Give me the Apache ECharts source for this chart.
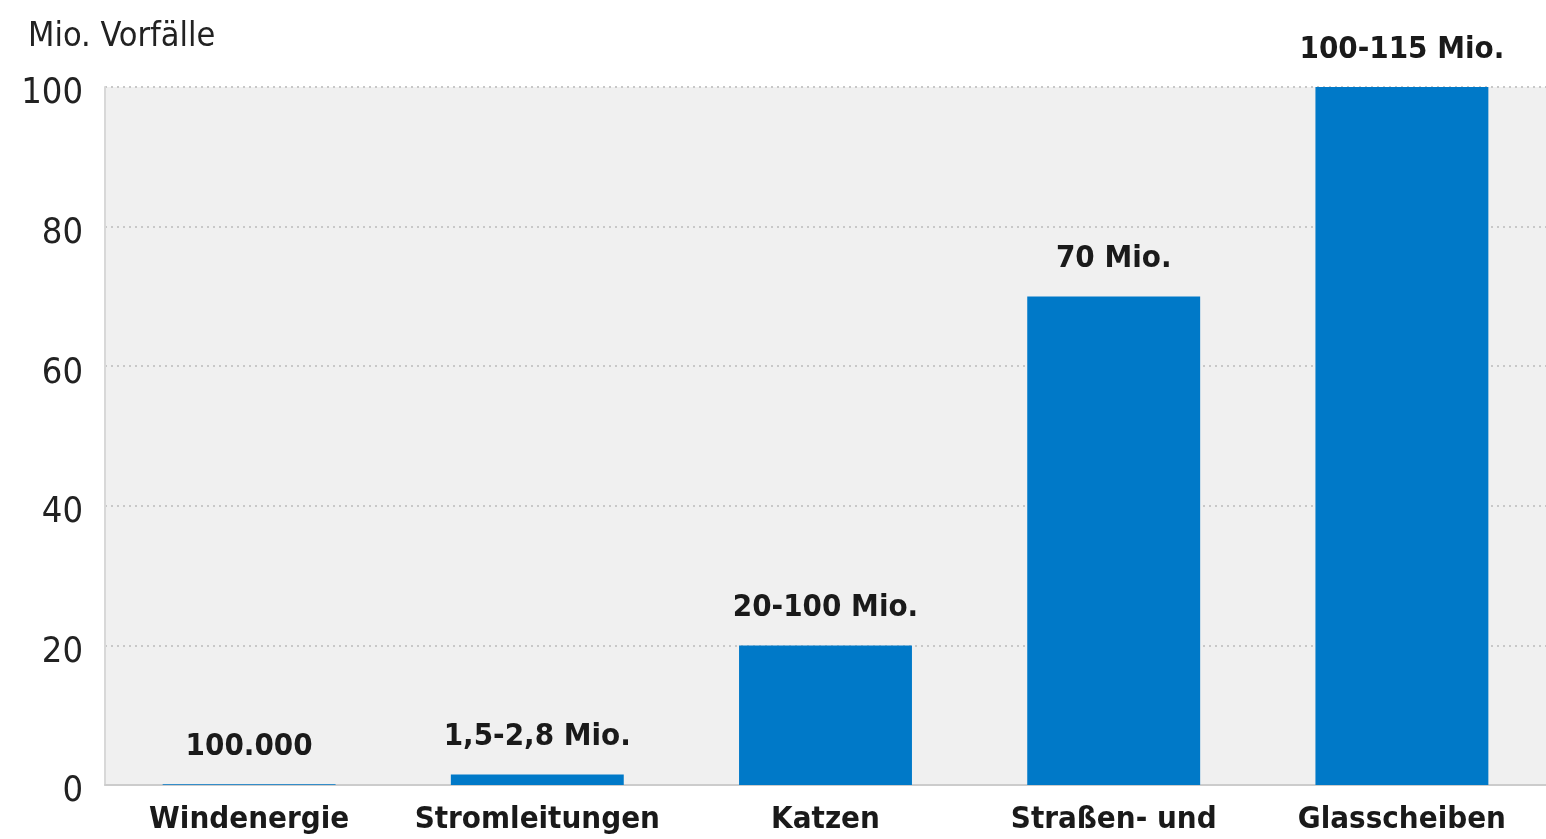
<!DOCTYPE html>
<html>
<head>
<meta charset="utf-8">
<script src="https://cdn.jsdelivr.net/npm/echarts@6/dist/echarts.min.js"></script>
<style>
html, body { margin: 0; padding: 0; background: #ffffff; }
#chart { width: 1546px; height: 839px; }
</style>
</head>
<body>
<div id="chart"></div>
<script>
var categories = ['Windenergie', 'Stromleitungen', 'Katzen', 'Straßen- und', 'Glasscheiben'];
var values = [0.1, 1.5, 20, 70, 100];
var valueLabels = ['100.000', '1,5-2,8 Mio.', '20-100 Mio.', '70 Mio.', '100-115 Mio.'];
var yTicks = [0, 20, 40, 60, 80, 100];

var font = '"DejaVu Sans Condensed", "Liberation Sans Narrow", sans-serif';

var chart = echarts.init(document.getElementById('chart'), null, {renderer: 'canvas'});
var option = {
  animation: false,
  backgroundColor: '#ffffff',
  grid: {
    left: 105,
    right: 0,
    top: 87,
    bottom: 54,
    show: true,
    backgroundColor: '#f0f0f0',
    borderWidth: 0
  },
  graphic: [{
    type: 'text',
    left: 28,
    top: 20,
    style: {
      text: 'Mio. Vorfälle',
      fontFamily: font,
      fontSize: 34,
      fill: '#222222'
    }
  }],
  xAxis: {
    type: 'category',
    data: categories,
    axisTick: {show: false},
    axisLine: {lineStyle: {color: '#cccccc', width: 2}},
    axisLabel: {
      margin: 19,
      fontFamily: font,
      fontWeight: 'bold',
      fontSize: 31,
      color: '#1a1a1a',
      interval: 0
    }
  },
  yAxis: {
    type: 'value',
    min: 0,
    max: 100,
    interval: 20,
    axisLine: {show: true, lineStyle: {color: '#d8d8d8', width: 2}},
    axisTick: {show: false},
    splitLine: {lineStyle: {color: '#c8c8c8', type: [2, 4], width: 2}},
    axisLabel: {
      margin: 22,
      fontFamily: font,
      fontSize: 36,
      color: '#222222',
      lineHeight: 46,
      verticalAlign: 'top',
      padding: [-16, 0, 0, 0],
      formatter: function (v) { return yTicks.indexOf(v) >= 0 ? String(v) : ''; }
    }
  },
  series: [{
    type: 'bar',
    barWidth: '60%',
    data: values.map(function (v, i) {
      return {value: v, label: {formatter: valueLabels[i]}};
    }),
    itemStyle: {color: '#0079c8'},
    label: {
      show: true,
      position: 'top',
      distance: 22,
      fontFamily: font,
      fontWeight: 'bold',
      fontSize: 31,
      color: '#1a1a1a'
    }
  }]
};
chart.setOption(option);
</script>
</body>
</html>
